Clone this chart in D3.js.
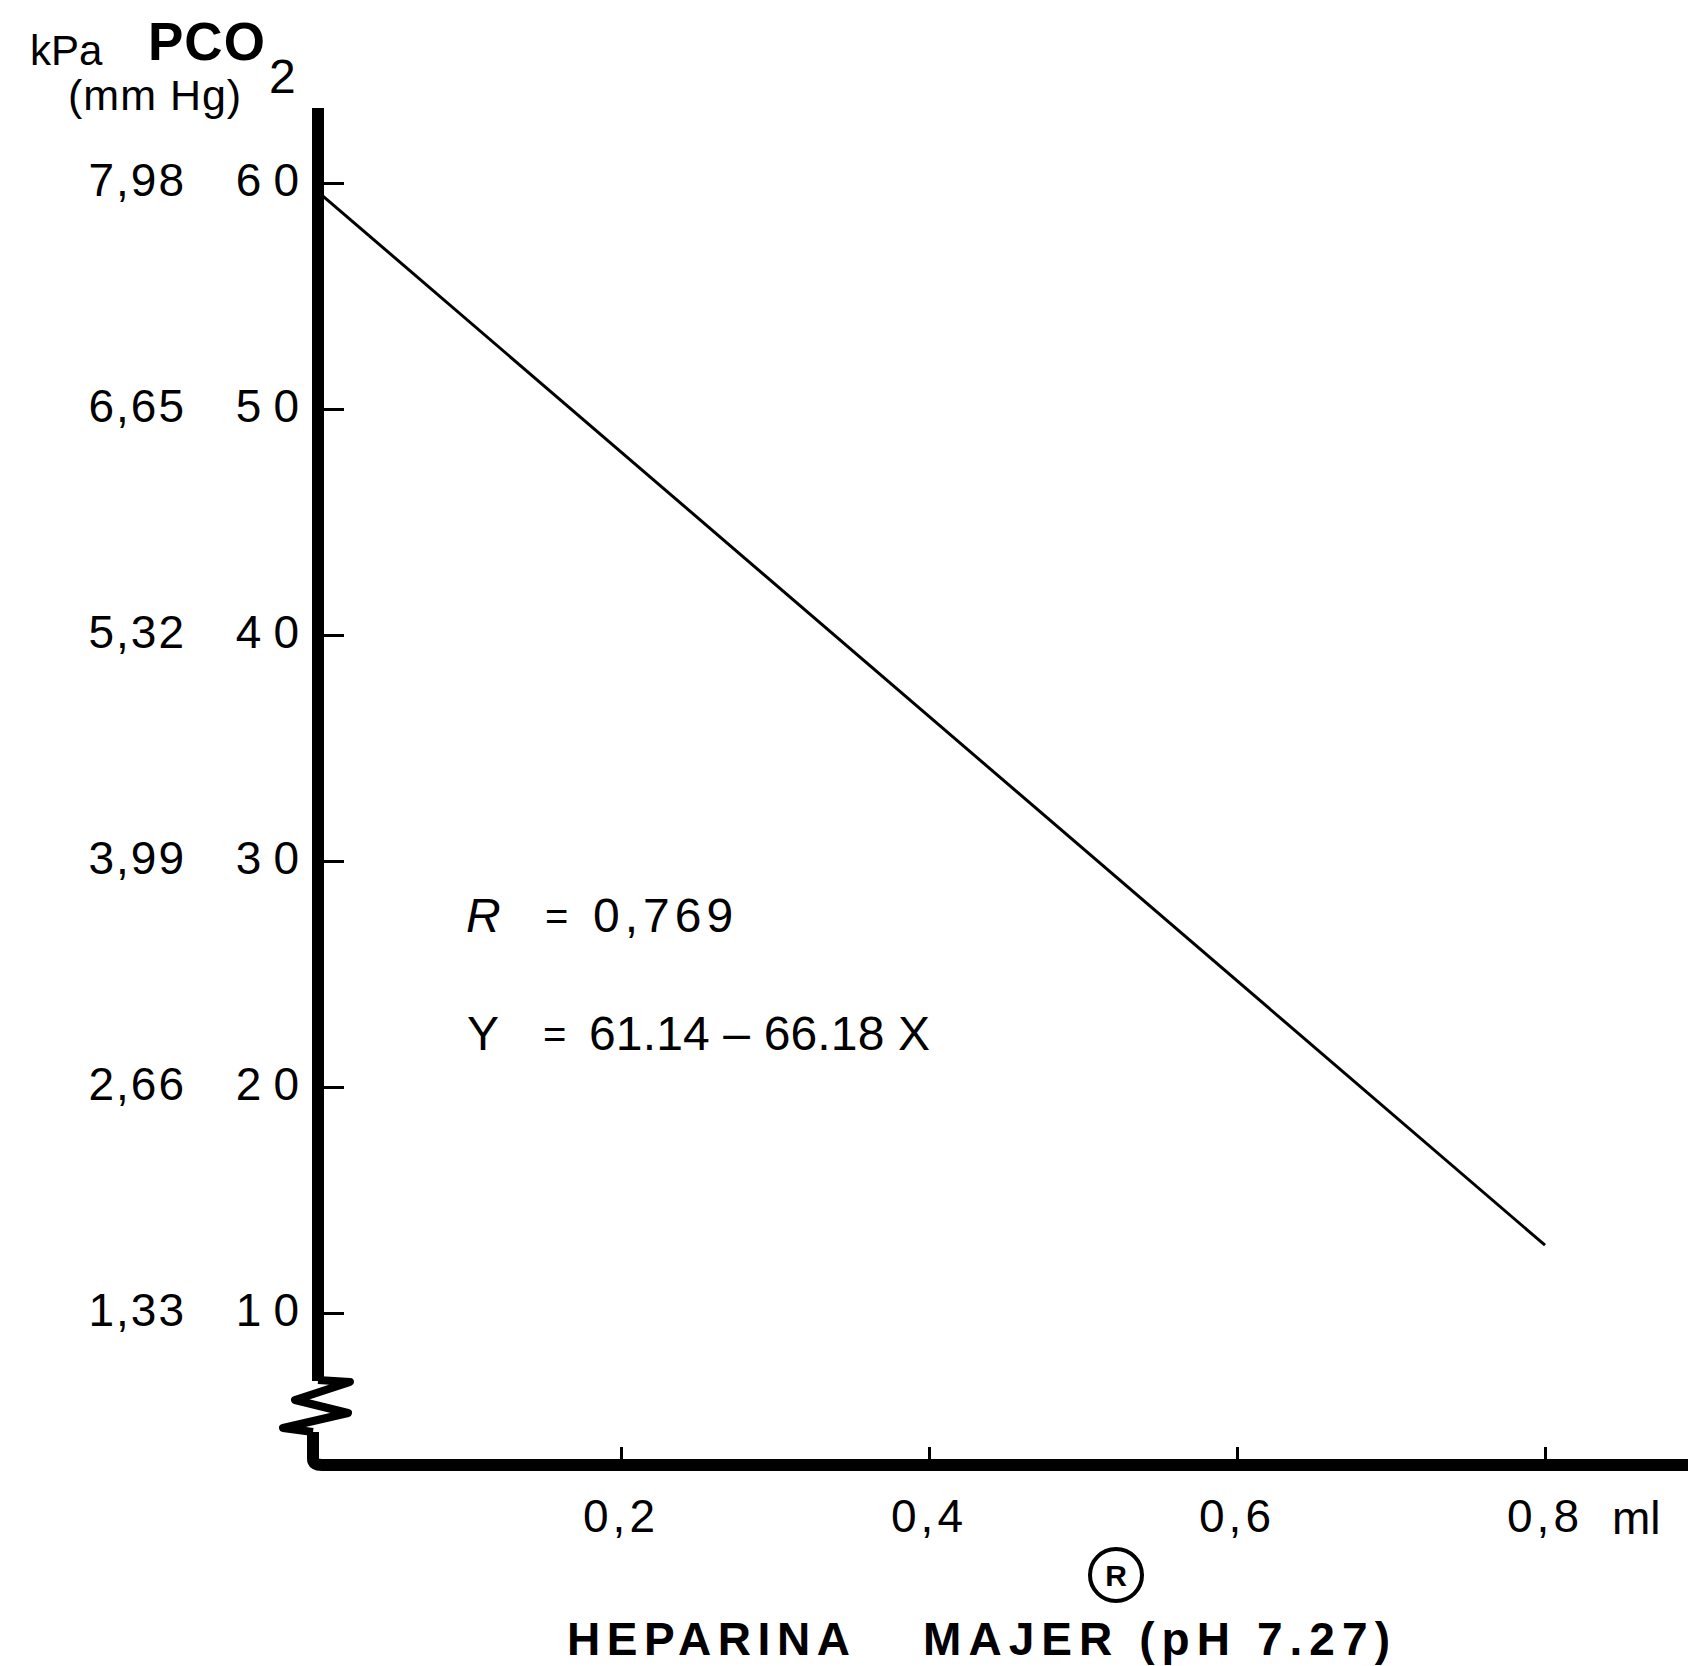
<!DOCTYPE html>
<html>
<head>
<meta charset="utf-8">
<script src="https://cdn.jsdelivr.net/npm/d3@7"></script>
<style>
  body { margin: 0; background: #fff; }
  svg { display: block; font-family: "Liberation Sans", Arial, sans-serif; }
  text { fill: #000; }
</style>
</head>
<body>
<div id="chart"></div>
<script>
// PCO2 (mm Hg) against heparin volume (ml)
const mmTicks = [10, 20, 30, 40, 50, 60];
const kPaLabels = ["1,33", "2,66", "3,99", "5,32", "6,65", "7,98"];
const xTicks = [0.2, 0.4, 0.6, 0.8];
const xTickLabels = ["0,2", "0,4", "0,6", "0,8"];
const lineX = [0, 0.8];
const lineY = [59.8, 13.0];

const width = 1688;
const height = 1666;

const svg = d3
  .select("#chart")
  .append("svg")
  .attr("width", width)
  .attr("height", height);

const x = d3.scaleLinear().domain([0, 0.8]).range([313, 1545]);
const y = d3.scaleLinear().domain([10, 60]).range([1313, 183]);

const axisX = 318; // vertical axis position
const baseY = 1465; // horizontal axis position (broken scale)

// ticks through d3 axes, domain path hidden
svg
  .append("g")
  .attr("transform", "translate(" + axisX + ",0)")
  .call(d3.axisRight(y).tickValues(mmTicks).tickSize(26).tickFormat(""))
  .call((g) => g.select(".domain").remove())
  .call((g) => g.selectAll("line").attr("stroke", "#000").attr("stroke-width", 3));

svg
  .append("g")
  .attr("transform", "translate(0," + baseY + ")")
  .call(d3.axisTop(x).tickValues(xTicks).tickSize(18).tickFormat(""))
  .call((g) => g.select(".domain").remove())
  .call((g) => g.selectAll("line").attr("stroke", "#000").attr("stroke-width", 3));

// thick vertical axis
svg
  .append("line")
  .attr("x1", axisX)
  .attr("x2", axisX)
  .attr("y1", 108)
  .attr("y2", 1381)
  .attr("stroke", "#000")
  .attr("stroke-width", 12);

// axis break zigzag
svg
  .append("path")
  .attr(
    "d",
    "M" + axisX + ",1380 L350,1382 L295,1400 L348,1413 L283,1428 L313,1432"
  )
  .attr("fill", "none")
  .attr("stroke", "#000")
  .attr("stroke-width", 8)
  .attr("stroke-linejoin", "round");

svg
  .append("path")
  .attr("d", "M313,1432 L313," + (baseY - 6) + " Q313," + baseY + " 322," + baseY + " L" + width + "," + baseY)
  .attr("fill", "none")
  .attr("stroke", "#000")
  .attr("stroke-width", 12);

// regression line
const lineData = lineX.map((d, i) => [d, lineY[i]]);
svg
  .append("path")
  .datum(lineData)
  .attr("d", d3.line().x((d) => x(d[0])).y((d) => y(d[1])))
  .attr("fill", "none")
  .attr("stroke", "#000")
  .attr("stroke-width", 3);

// y labels
svg
  .selectAll(".mm-label")
  .data(mmTicks)
  .enter()
  .append("text")
  .attr("class", "mm-label")
  .attr("x", 311)
  .attr("y", (d) => y(d) + 13)
  .attr("text-anchor", "end")
  .style("font-size", "46px")
  .style("letter-spacing", "12px")
  .text((d) => d);

svg
  .selectAll(".kpa-label")
  .data(kPaLabels)
  .enter()
  .append("text")
  .attr("class", "kpa-label")
  .attr("x", 186)
  .attr("y", (d, i) => y(mmTicks[i]) + 13)
  .attr("text-anchor", "end")
  .style("font-size", "46px")
  .style("letter-spacing", "2px")
  .text((d) => d);

// x labels
svg
  .selectAll(".x-label")
  .data(xTickLabels)
  .enter()
  .append("text")
  .attr("class", "x-label")
  .attr("x", (d, i) => x(xTicks[i]))
  .attr("y", 1532)
  .attr("text-anchor", "middle")
  .style("font-size", "46px")
  .style("letter-spacing", "4px")
  .text((d) => d);

svg
  .append("text")
  .attr("x", 1612)
  .attr("y", 1534)
  .style("font-size", "46px")
  .text("ml");

// y axis title
svg.append("text").attr("x", 30).attr("y", 65).style("font-size", "42px").text("kPa");
svg
  .append("text")
  .attr("x", 148)
  .attr("y", 60)
  .style("font-size", "53px")
  .style("font-weight", "bold")
  .style("letter-spacing", "1px")
  .text("PCO");
svg.append("text").attr("x", 269).attr("y", 93).style("font-size", "48px").text("2");
svg.append("text").attr("x", 68).attr("y", 110).style("font-size", "43px").style("letter-spacing", "1px").text("(mm Hg)");

// annotations
svg
  .append("text")
  .attr("x", 466)
  .attr("y", 932)
  .style("font-size", "48px")
  .style("font-style", "italic")
  .text("R");
svg.append("text").attr("x", 545).attr("y", 930).style("font-size", "40px").text("=");
svg.append("text").attr("x", 593).attr("y", 932).style("font-size", "48px").style("letter-spacing", "5px").text("0,769");

svg.append("text").attr("x", 467).attr("y", 1050).style("font-size", "48px").text("Y");
svg.append("text").attr("x", 543).attr("y", 1048).style("font-size", "40px").text("=");
svg
  .append("text")
  .attr("x", 589)
  .attr("y", 1050)
  .attr("textLength", 341)
  .attr("lengthAdjust", "spacing")
  .style("font-size", "48px")
  .text("61.14 \u2013 66.18 X");

// x axis title
svg
  .append("circle")
  .attr("cx", 1116)
  .attr("cy", 1575)
  .attr("r", 26)
  .attr("fill", "none")
  .attr("stroke", "#000")
  .attr("stroke-width", 4);
svg
  .append("text")
  .attr("x", 1116)
  .attr("y", 1586)
  .attr("text-anchor", "middle")
  .style("font-size", "30px")
  .style("font-weight", "bold")
  .text("R");

svg
  .append("text")
  .attr("x", 567)
  .attr("y", 1655)
  .attr("textLength", 283)
  .attr("lengthAdjust", "spacing")
  .style("font-size", "46px")
  .style("font-weight", "bold")
  .text("HEPARINA");
svg
  .append("text")
  .attr("x", 923)
  .attr("y", 1655)
  .attr("textLength", 467)
  .attr("lengthAdjust", "spacing")
  .style("font-size", "46px")
  .style("font-weight", "bold")
  .text("MAJER (pH 7.27)");
</script>
</body>
</html>
